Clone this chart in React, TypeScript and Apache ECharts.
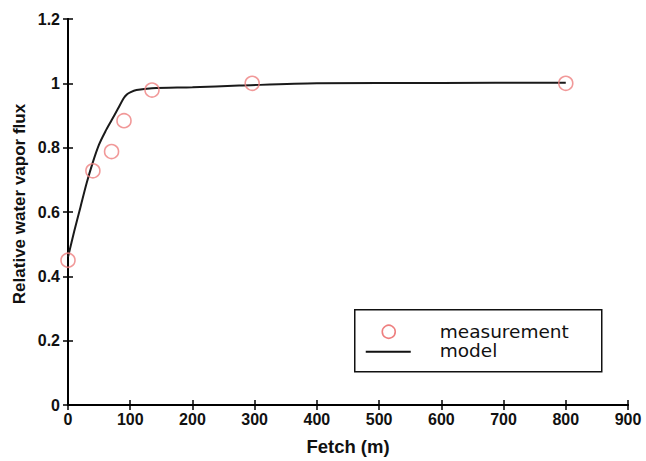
import React, { useEffect, useRef } from "react";
import * as echarts from "echarts";

const measX = [0, 40, 70, 90, 135, 296, 800];
const measY = [0.45, 0.728, 0.788, 0.884, 0.979, 1.0, 1.0];

const modelX = [0, 10, 20, 30, 40, 50, 60, 70, 80, 90, 95, 100, 110, 135, 200, 275, 400, 600, 800];
const modelY = [0.46, 0.54, 0.615, 0.69, 0.755, 0.81, 0.85, 0.885, 0.92, 0.955, 0.966, 0.972, 0.979, 0.985, 0.988, 0.993, 1.0, 1.001, 1.002];

const xTicks = { min: 0, max: 900, interval: 100 };
const yTicks = { min: 0, max: 1.2, interval: 0.2 };

const legendLabels = ["measurement", "model"];
const yTitle = "Relative water vapor flux";

export default function App() {
  const ref = useRef<HTMLDivElement>(null);
  useEffect(() => {
    if (!ref.current) return;
    const chart = echarts.init(ref.current, undefined, { renderer: "svg" });
    const axisLine = { show: true, lineStyle: { color: "#000", width: 2 } };
    const axisTick = { show: true, inside: true, length: 5, lineStyle: { color: "#000", width: 1.5 } };
    const labelStyle = { color: "#111", fontSize: 16, fontWeight: "bold" as const, fontFamily: "Liberation Sans, Arial, sans-serif" };
    chart.setOption({
      animation: false,
      backgroundColor: "#fff",
      grid: { left: 68, right: 18, top: 19, bottom: 56, containLabel: false, outerBoundsMode: "none" },
      xAxis: [
        {
          type: "value", ...xTicks, position: "bottom",
          axisLine, axisTick, splitLine: { show: false },
          axisLabel: { ...labelStyle, margin: 6 },
          name: "Fetch (m)", nameLocation: "middle", nameGap: 32,
          nameTextStyle: { color: "#111", fontSize: 18.5, fontWeight: "bold", fontFamily: "Liberation Sans, Arial, sans-serif" },
        },
        {
          type: "value", ...xTicks, position: "top",
          axisLine, axisTick, splitLine: { show: false }, axisLabel: { show: false },
        },
      ],
      yAxis: [
        {
          type: "value", ...yTicks, position: "left",
          axisLine, axisTick, splitLine: { show: false },
          axisLabel: { ...labelStyle, margin: 8 },
        },
        {
          type: "value", ...yTicks, position: "right",
          axisLine, axisTick, splitLine: { show: false }, axisLabel: { show: false },
        },
      ],
      series: [
        {
          name: legendLabels[1],
          type: "line",
          data: modelX.map((x, i) => [x, modelY[i]]),
          showSymbol: false,
          smooth: 0.3,
          lineStyle: { color: "#1a1a1a", width: 2 },
          z: 2,
        },
        {
          name: legendLabels[0],
          type: "scatter",
          data: measX.map((x, i) => [x, measY[i]]),
          symbol: "circle",
          symbolSize: 14,
          itemStyle: { color: "rgba(0,0,0,0)", borderColor: "#ee7f7f", borderWidth: 1.6 },
          z: 3,
        },
      ],
      graphic: [
        {
          type: "text",
          x: 19,
          y: 204,
          rotation: Math.PI / 2,
          style: { text: yTitle, fill: "#111", fontSize: 17, fontWeight: "bold", fontFamily: "Liberation Sans, Arial, sans-serif", align: "center", verticalAlign: "middle" },
        },
        {
          type: "group",
          left: 354,
          top: 309,
          children: [
            { type: "rect", shape: { x: 0, y: 0, width: 247, height: 62 }, style: { fill: "#fff", stroke: "#111", lineWidth: 1.5 } },
            { type: "circle", shape: { cx: 34, cy: 22, r: 6.5 }, style: { fill: "none", stroke: "#ee7f7f", lineWidth: 1.6 } },
            { type: "line", shape: { x1: 11, y1: 42, x2: 56, y2: 42 }, style: { stroke: "#111", lineWidth: 2 } },
            { type: "text", x: 85, y: 22, style: { text: legendLabels[0], fill: "#111", fontSize: 18.5, lineHeight: 18, fontFamily: "DejaVu Sans, sans-serif", verticalAlign: "middle" } },
            { type: "text", x: 85, y: 41, style: { text: legendLabels[1], fill: "#111", fontSize: 18.5, lineHeight: 18, fontFamily: "DejaVu Sans, sans-serif", verticalAlign: "middle" } },
          ],
        },
      ],
    });
    return () => chart.dispose();
  }, []);
  return <div ref={ref} style={{ width: 646, height: 461, position: "absolute", left: 0, top: 0 }} />;
}
